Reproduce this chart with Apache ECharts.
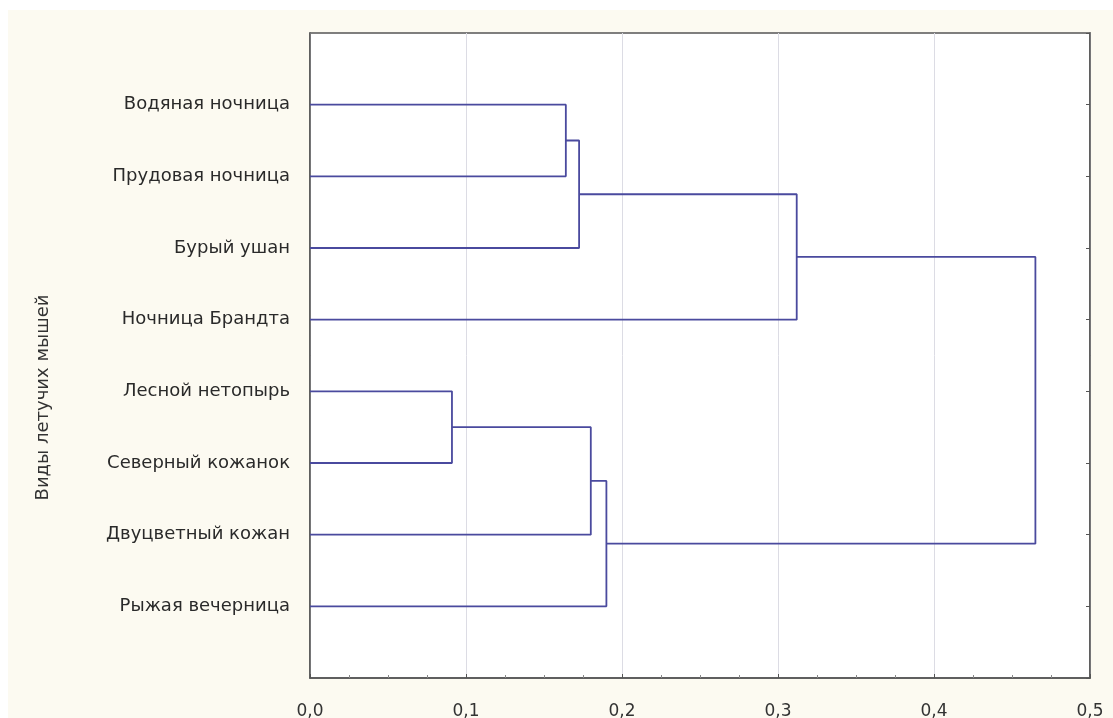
<!DOCTYPE html>
<html lang="ru">
<head>
    <meta charset="UTF-8">
    <title>Дендрограмма</title>
    <style>
        html, body { margin: 0; padding: 0; background: #ffffff; }
        #main { position: absolute; left: 8px; top: 10px; width: 1105px; height: 708px; background: #fcfaf1; }
    </style>
</head>
<body>
<div id="main"></div>
<script src="https://cdn.jsdelivr.net/npm/echarts@6/dist/echarts.min.js"></script>
<script>
    // листья сверху вниз
    var leafNames = ['Водяная ночница', 'Прудовая ночница', 'Бурый ушан', 'Ночница Брандта',
        'Лесной нетопырь', 'Северный кожанок', 'Двуцветный кожан', 'Рыжая вечерница'];
    // объединения: номера узлов (0-7 листья, 8.. кластеры) и расстояния
    var mergeLeft = [0, 8, 9, 4, 11, 12, 10];
    var mergeRight = [1, 2, 3, 5, 6, 7, 13];
    var mergeHeight = [0.164, 0.1725, 0.312, 0.091, 0.180, 0.190, 0.465];
    var xTicks = [0, 0.1, 0.2, 0.3, 0.4, 0.5];

    var nodeY = [], nodeH = [];
    for (var i = 0; i < leafNames.length; i++) {
        nodeY.push(i + 1);
        nodeH.push(0);
    }
    var series = [];
    for (var k = 0; k < mergeLeft.length; k++) {
        var a = mergeLeft[k], b = mergeRight[k], h = mergeHeight[k];
        series.push({
            type: 'line',
            data: [[nodeH[a], nodeY[a]], [h, nodeY[a]], [h, nodeY[b]], [nodeH[b], nodeY[b]]],
            symbol: 'none',
            silent: true,
            lineStyle: { color: '#4a4a9e', width: 1.8 }
        });
        nodeY.push((nodeY[a] + nodeY[b]) / 2);
        nodeH.push(h);
    }

    var font = 'DejaVu Sans';
    var myChart = echarts.init(document.getElementById('main'));
    var option = {
        animation: false,
        grid: {
            left: 302, right: 23, top: 23, bottom: 40,
            outerBoundsMode: 'none',
            show: true, backgroundColor: '#ffffff', borderColor: '#555555', borderWidth: 1.5
        },
        xAxis: {
            type: 'value',
            min: xTicks[0], max: xTicks[xTicks.length - 1], interval: 0.1,
            axisLine: { show: true, onZero: false, lineStyle: { color: '#555555', width: 1.5 } },
            axisTick: { show: true, inside: true, length: 4, lineStyle: { color: '#555555' } },
            minorTick: { show: true, splitNumber: 4, length: 3, lineStyle: { color: '#888888' } },
            splitLine: { show: true, lineStyle: { color: '#dcdce4', width: 1 } },
            axisLabel: {
                color: '#333333', fontSize: 17, fontFamily: font, margin: 25,
                formatter: function (v) { return v.toFixed(1).replace('.', ','); }
            }
        },
        yAxis: [{
            type: 'value', position: 'left',
            min: 0, max: leafNames.length + 1, interval: 1, inverse: true,
            name: 'Виды летучих мышей',
            nameLocation: 'middle',
            nameGap: 258,
            nameRotate: 90,
            nameTextStyle: { color: '#333333', fontSize: 18, fontFamily: font, padding: [0, 84, 0, 0] },
            axisLine: { show: true, onZero: false, lineStyle: { color: '#555555', width: 1.5 } },
            axisTick: { show: false },
            splitLine: { show: false },
            axisLabel: {
                color: '#2a2a2a', fontSize: 18, fontFamily: font, margin: 20,
                formatter: function (v) { return leafNames[v - 1] || ''; }
            }
        }, {
            type: 'value', position: 'right',
            min: 0, max: leafNames.length + 1, interval: 1, inverse: true,
            axisLine: { show: true, onZero: false, lineStyle: { color: '#555555', width: 1.5 } },
            axisTick: { show: true, inside: true, length: 4, lineStyle: { color: '#555555' } },
            splitLine: { show: false },
            axisLabel: { show: false }
        }],
        series: series
    };
    myChart.setOption(option);
</script>
</body>
</html>
